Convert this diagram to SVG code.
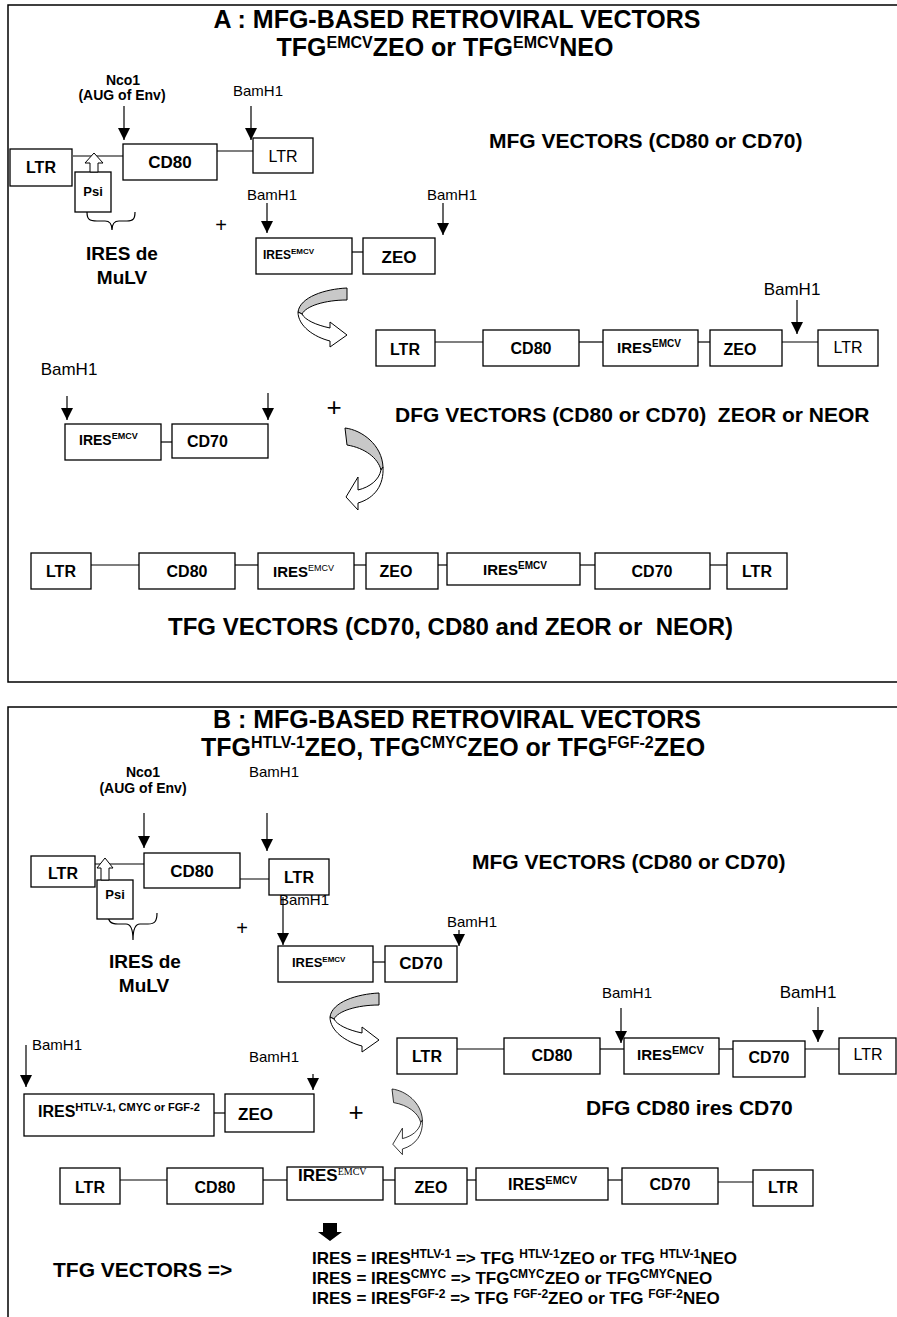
<svg xmlns="http://www.w3.org/2000/svg" width="897" height="1317" viewBox="0 0 897 1317">
<style>
.box{fill:#fff;stroke:#000;stroke-width:1.3}
.ln{stroke:#000;stroke-width:1.2;fill:none}
.ar{stroke:#000;stroke-width:1.2;fill:none;marker-end:url(#ah)}
.frame{stroke:#000;stroke-width:1.5;fill:none}
text{font-family:"Liberation Sans",Arial,sans-serif;fill:#000}
.b{font-weight:bold}
.m{text-anchor:middle}
.serif{font-family:"Liberation Serif","Times New Roman",serif;font-weight:normal}
.gray{fill:#c8c8c8;stroke:#000;stroke-width:1}
.wh{fill:#fff;stroke:#000;stroke-width:1}
</style>
<defs>
<marker id="ah" markerUnits="userSpaceOnUse" markerWidth="12" markerHeight="12" viewBox="0 0 12 12" refX="12" refY="6" orient="auto"><path d="M0,0 L12,6 L0,12 Z" fill="#000"/></marker>
<g id="curveR"><path class="gray" d="M49,0 C27,1 2,9 0,24 L4,26 C8,18 27,12 49,12 Z"/><path class="wh" d="M0,24 C0,38 16,49 32,53 L32,59 L49,47 L32,34 L32,40 C18,37 7,32 4,26 Z"/></g>
<g id="curveL"><path class="gray" d="M0,0 C17,2 37,17 38,39 L36,42 C33,30 20,20 2,17 Z"/><path class="wh" d="M38,39 C39,57 30,70 13,75 L13,82 L1,69 L13,49 L13,62 C25,59 34,52 36,42 Z"/></g>
</defs>
<rect width="897" height="1317" fill="#fff"/>
<g id="frames">
<path class="frame" d="M897,5 H8 V682 H897"/>
<path class="frame" d="M897,707 H8 V1317"/>
</g>
<g id="titleA">
<text class="b m" x="457" y="28" font-size="25">A : MFG-BASED RETROVIRAL VECTORS</text>
<text class="b m" x="445" y="56" font-size="25"><tspan>TFG</tspan><tspan dy="-8" font-size="16">EMCV</tspan><tspan dy="8">ZEO or TFG</tspan><tspan dy="-8" font-size="16">EMCV</tspan><tspan dy="8">NEO</tspan></text>
</g>
<g id="connectors">
<line class="ln" x1="73" y1="156" x2="123" y2="156"/>
<line class="ln" x1="217" y1="151" x2="253" y2="151"/>
<line class="ln" x1="352" y1="252" x2="363" y2="252"/>
<line class="ln" x1="435" y1="342" x2="483" y2="342"/>
<line class="ln" x1="579" y1="342" x2="603" y2="342"/>
<line class="ln" x1="698" y1="342" x2="710" y2="342"/>
<line class="ln" x1="782" y1="342" x2="818" y2="342"/>
<line class="ln" x1="161" y1="442" x2="172" y2="442"/>
<line class="ln" x1="91" y1="565" x2="139" y2="565"/>
<line class="ln" x1="235" y1="565" x2="258" y2="565"/>
<line class="ln" x1="354" y1="565" x2="366" y2="565"/>
<line class="ln" x1="438" y1="565" x2="447" y2="565"/>
<line class="ln" x1="580" y1="565" x2="595" y2="565"/>
<line class="ln" x1="710" y1="565" x2="727" y2="565"/>
<line class="ar" x1="124" y1="106" x2="124" y2="140"/>
<line class="ar" x1="251" y1="106" x2="251" y2="140"/>
<line class="ar" x1="267" y1="203" x2="267" y2="233"/>
<line class="ar" x1="443" y1="203" x2="443" y2="235"/>
<line class="ar" x1="797" y1="300" x2="797" y2="334"/>
<line class="ar" x1="67" y1="396" x2="67" y2="420"/>
<line class="ar" x1="268" y1="393" x2="268" y2="420"/>
<line class="ln" x1="95" y1="864" x2="144" y2="864"/>
<line class="ln" x1="233" y1="879" x2="269" y2="879"/>
<line class="ln" x1="373" y1="962" x2="385" y2="962"/>
<line class="ln" x1="457" y1="1049" x2="504" y2="1049"/>
<line class="ln" x1="600" y1="1049" x2="624" y2="1049"/>
<line class="ln" x1="719" y1="1049" x2="733" y2="1049"/>
<line class="ln" x1="805" y1="1049" x2="839" y2="1049"/>
<line class="ln" x1="214" y1="1113" x2="225" y2="1113"/>
<line class="ln" x1="120" y1="1180" x2="167" y2="1180"/>
<line class="ln" x1="263" y1="1180" x2="287" y2="1180"/>
<line class="ln" x1="383" y1="1180" x2="395" y2="1180"/>
<line class="ln" x1="467" y1="1180" x2="476" y2="1180"/>
<line class="ln" x1="608" y1="1180" x2="622" y2="1180"/>
<line class="ln" x1="718" y1="1182" x2="753" y2="1182"/>
<line class="ar" x1="144" y1="813" x2="144" y2="848"/>
<line class="ar" x1="267" y1="813" x2="267" y2="851"/>
<line class="ar" x1="283" y1="897" x2="283" y2="945"/>
<line class="ar" x1="459" y1="930" x2="459" y2="946"/>
<line class="ar" x1="621" y1="1008" x2="621" y2="1043"/>
<line class="ar" x1="818" y1="1007" x2="818" y2="1042"/>
<line class="ar" x1="26" y1="1045" x2="26" y2="1087"/>
<line class="ar" x1="313" y1="1074" x2="313" y2="1090"/>
<use href="#curveR" transform="translate(298,288)"/>
<use href="#curveL" transform="translate(345,428)"/>
<use href="#curveR" transform="translate(330,993)"/>
<use href="#curveL" transform="translate(392,1089) scale(0.8)"/>
<polygon points="323,1223 337,1223 337,1232 342,1232 330,1241 318,1232 323,1232" fill="#000"/>
</g>
<g id="labelsA">
<text class="b m" x="123" y="85" font-size="14">Nco1</text>
<text class="b m" x="122" y="100" font-size="14">(AUG of Env)</text>
<text class="m" x="258" y="96" font-size="15">BamH1</text>
<text class="b" x="489" y="148" font-size="21">MFG VECTORS (CD80 or CD70)</text>
<text class="m" x="272" y="200" font-size="15">BamH1</text>
<text class="m" x="452" y="200" font-size="15">BamH1</text>
<text class="m" x="221" y="232" font-size="20">+</text>
<path class="ln" d="M87,212 C87,219 89,221 97,221 L105,221 C110,221 112,224 112,230 C112,224 114,221 119,221 L127,221 C133,221 135,219 135,212"/>
<text class="b m" x="122" y="260" font-size="19">IRES de</text>
<text class="b m" x="122" y="284" font-size="19">MuLV</text>
<text class="m" x="792" y="295" font-size="17">BamH1</text>
<text class="m" x="69" y="375" font-size="17">BamH1</text>
<text class="m" x="334" y="416" font-size="26">+</text>
<text class="b" x="395" y="422" font-size="21">DFG VECTORS (CD80 or CD70)&#160; ZEOR or NEOR</text>
<text class="b" x="168" y="635" font-size="24">TFG VECTORS (CD70, CD80 and ZEOR or&#160; NEOR)</text>
</g>
<g id="A-LTR1"><rect class="box" x="10" y="149" width="62" height="37"/><text class="b m" x="41" y="173" font-size="16">LTR</text></g>
<g id="A-Psi"><rect class="box" x="75" y="172" width="36" height="40"/><polygon class="wh" points="94,153 103,163 98,163 98,172 90,172 90,163 85,163"/><text class="b m" x="93" y="196" font-size="13">Psi</text></g>
<g id="A-CD80"><rect class="box" x="123" y="144" width="94" height="36"/><text class="b m" x="170" y="168" font-size="17">CD80</text></g>
<g id="A-LTR2"><rect class="box" x="253" y="138" width="60" height="35"/><text class="m" x="283" y="162" font-size="16">LTR</text></g>
<g id="A-IRES"><rect class="box" x="256" y="238" width="96" height="36"/><text class="b" x="263" y="259" font-size="12">IRES<tspan dy="-5" font-size="8">EMCV</tspan></text></g>
<g id="A-ZEO"><rect class="box" x="363" y="238" width="72" height="36"/><text class="b m" x="399" y="263" font-size="17">ZEO</text></g>
<g id="A-DFG-LTR1"><rect class="box" x="376" y="330" width="59" height="36"/><text class="b m" x="405" y="355" font-size="16">LTR</text></g>
<g id="A-DFG-CD80"><rect class="box" x="483" y="330" width="96" height="36"/><text class="b m" x="531" y="354" font-size="16">CD80</text></g>
<g id="A-DFG-IRES"><rect class="box" x="603" y="330" width="95" height="36"/><text class="b" x="617" y="353" font-size="15">IRES<tspan dy="-6" font-size="10">EMCV</tspan></text></g>
<g id="A-DFG-ZEO"><rect class="box" x="710" y="330" width="72" height="36"/><text class="b m" x="740" y="355" font-size="16">ZEO</text></g>
<g id="A-DFG-LTR2"><rect class="box" x="818" y="330" width="60" height="36"/><text class="m" x="848" y="353" font-size="16">LTR</text></g>
<g id="A-IRES-CD70-IRES"><rect class="box" x="65" y="424" width="96" height="36"/><text class="b" x="79" y="445" font-size="14">IRES<tspan dy="-6" font-size="9">EMCV</tspan></text></g>
<g id="A-IRES-CD70-CD70"><rect class="box" x="172" y="424" width="96" height="34"/><text class="b" x="187" y="447" font-size="16">CD70</text></g>
<g id="A-TFG-LTR1"><rect class="box" x="31" y="553" width="60" height="36"/><text class="b m" x="61" y="577" font-size="16">LTR</text></g>
<g id="A-TFG-CD80"><rect class="box" x="139" y="553" width="96" height="36"/><text class="b m" x="187" y="577" font-size="16">CD80</text></g>
<g id="A-TFG-IRES1"><rect class="box" x="258" y="553" width="96" height="36"/><text class="b" x="273" y="577" font-size="15">IRES<tspan dy="-6" font-size="9" font-weight="normal">EMCV</tspan></text></g>
<g id="A-TFG-ZEO"><rect class="box" x="366" y="553" width="72" height="36"/><text class="b m" x="396" y="577" font-size="16">ZEO</text></g>
<g id="A-TFG-IRES2"><rect class="box" x="447" y="553" width="133" height="32"/><text class="b" x="483" y="575" font-size="15">IRES<tspan dy="-6" font-size="10">EMCV</tspan></text></g>
<g id="A-TFG-CD70"><rect class="box" x="595" y="553" width="115" height="36"/><text class="b m" x="652" y="577" font-size="16">CD70</text></g>
<g id="A-TFG-LTR2"><rect class="box" x="727" y="553" width="60" height="36"/><text class="b m" x="757" y="577" font-size="16">LTR</text></g>
<g id="titleB">
<text class="b m" x="457" y="728" font-size="25">B : MFG-BASED RETROVIRAL VECTORS</text>
<text class="b m" x="453" y="756" font-size="25"><tspan>TFG</tspan><tspan dy="-8" font-size="16">HTLV-1</tspan><tspan dy="8">ZEO, TFG</tspan><tspan dy="-8" font-size="16">CMYC</tspan><tspan dy="8">ZEO or TFG</tspan><tspan dy="-8" font-size="16">FGF-2</tspan><tspan dy="8">ZEO</tspan></text>
</g>
<g id="labelsB">
<text class="b m" x="143" y="777" font-size="14">Nco1</text>
<text class="b m" x="143" y="793" font-size="14">(AUG of Env)</text>
<text class="m" x="274" y="777" font-size="15">BamH1</text>
<text class="b" x="472" y="869" font-size="21">MFG VECTORS (CD80 or CD70)</text>
<text class="m" x="304" y="905" font-size="15">BamH1</text>
<text class="m" x="472" y="927" font-size="15">BamH1</text>
<text class="m" x="242" y="935" font-size="20">+</text>
<path class="ln" d="M108,913 C108,921 110,924 118,924 L126,924 C131,924 133,930 133,940 C133,930 135,924 140,924 L148,924 C155,924 157,921 157,913"/>
<text class="b m" x="145" y="968" font-size="19">IRES de</text>
<text class="b m" x="144" y="992" font-size="19">MuLV</text>
<text class="m" x="627" y="998" font-size="15">BamH1</text>
<text class="m" x="808" y="998" font-size="17">BamH1</text>
<text class="b" x="586" y="1115" font-size="21">DFG CD80 ires CD70</text>
<text x="32" y="1050" font-size="15">BamH1</text>
<text class="m" x="274" y="1062" font-size="15">BamH1</text>
<text class="m" x="356" y="1121" font-size="26">+</text>
<text class="b" x="53" y="1277" font-size="21">TFG VECTORS =&gt;</text>
<text class="b" x="312" y="1264" font-size="17">IRES = IRES<tspan dy="-6" font-size="12">HTLV-1</tspan><tspan dy="6"> =&gt; TFG </tspan><tspan dy="-6" font-size="12">HTLV-1</tspan><tspan dy="6">ZEO or TFG </tspan><tspan dy="-6" font-size="12">HTLV-1</tspan><tspan dy="6">NEO</tspan></text>
<text class="b" x="312" y="1284" font-size="17">IRES = IRES<tspan dy="-6" font-size="12">CMYC</tspan><tspan dy="6"> =&gt; TFG</tspan><tspan dy="-6" font-size="12">CMYC</tspan><tspan dy="6">ZEO or TFG</tspan><tspan dy="-6" font-size="12">CMYC</tspan><tspan dy="6">NEO</tspan></text>
<text class="b" x="312" y="1304" font-size="17">IRES = IRES<tspan dy="-6" font-size="12">FGF-2</tspan><tspan dy="6"> =&gt; TFG </tspan><tspan dy="-6" font-size="12">FGF-2</tspan><tspan dy="6">ZEO or TFG </tspan><tspan dy="-6" font-size="12">FGF-2</tspan><tspan dy="6">NEO</tspan></text>
</g>
<g id="B-LTR1"><rect class="box" x="31" y="856" width="64" height="31"/><text class="b m" x="63" y="879" font-size="16">LTR</text></g>
<g id="B-Psi"><rect class="box" x="97" y="880" width="36" height="39"/><polygon class="wh" points="105,858 113,868 109,868 109,880 101,880 101,868 97,868"/><text class="b m" x="115" y="899" font-size="13">Psi</text></g>
<g id="B-CD80"><rect class="box" x="144" y="853" width="96" height="35"/><text class="b m" x="192" y="877" font-size="17">CD80</text></g>
<g id="B-LTR2"><rect class="box" x="269" y="859" width="60" height="36"/><text class="b m" x="299" y="883" font-size="16">LTR</text></g>
<g id="B-IRES"><rect class="box" x="278" y="946" width="95" height="36"/><text class="b" x="292" y="967" font-size="13">IRES<tspan dy="-5" font-size="8">EMCV</tspan></text></g>
<g id="B-CD70"><rect class="box" x="385" y="946" width="72" height="36"/><text class="b m" x="421" y="969" font-size="17">CD70</text></g>
<g id="B-DFG-LTR1"><rect class="box" x="397" y="1038" width="60" height="36"/><text class="b m" x="427" y="1062" font-size="16">LTR</text></g>
<g id="B-DFG-CD80"><rect class="box" x="504" y="1038" width="96" height="36"/><text class="b m" x="552" y="1061" font-size="16">CD80</text></g>
<g id="B-DFG-IRES"><rect class="box" x="624" y="1038" width="95" height="36"/><text class="b" x="637" y="1060" font-size="15">IRES<tspan dy="-6" font-size="11">EMCV</tspan></text></g>
<g id="B-DFG-CD70"><rect class="box" x="733" y="1041" width="72" height="36"/><text class="b m" x="769" y="1063" font-size="16">CD70</text></g>
<g id="B-DFG-LTR2"><rect class="box" x="839" y="1038" width="57" height="36"/><text class="m" x="868" y="1060" font-size="16">LTR</text></g>
<g id="B-IRESX"><rect class="box" x="24" y="1094" width="190" height="42"/><text class="b" x="38" y="1117" font-size="16">IRES<tspan dy="-6" font-size="11">HTLV-1, CMYC or FGF-2</tspan></text></g>
<g id="B-ZEO"><rect class="box" x="225" y="1094" width="89" height="38"/><text class="b" x="238" y="1120" font-size="17">ZEO</text></g>
<g id="B-TFG-LTR1"><rect class="box" x="60" y="1168" width="60" height="36"/><text class="b m" x="90" y="1193" font-size="16">LTR</text></g>
<g id="B-TFG-CD80"><rect class="box" x="167" y="1168" width="96" height="36"/><text class="b m" x="215" y="1193" font-size="16">CD80</text></g>
<g id="B-TFG-IRES1"><rect class="box" x="287" y="1167" width="96" height="33"/><text class="b" x="298" y="1181" font-size="17">IRES<tspan dy="-6" font-size="10" class="serif">EMCV</tspan></text></g>
<g id="B-TFG-ZEO"><rect class="box" x="395" y="1168" width="72" height="36"/><text class="b m" x="431" y="1193" font-size="16">ZEO</text></g>
<g id="B-TFG-IRES2"><rect class="box" x="476" y="1168" width="132" height="32"/><text class="b" x="508" y="1190" font-size="16">IRES<tspan dy="-6" font-size="11">EMCV</tspan></text></g>
<g id="B-TFG-CD70"><rect class="box" x="622" y="1168" width="96" height="36"/><text class="b m" x="670" y="1190" font-size="16">CD70</text></g>
<g id="B-TFG-LTR2"><rect class="box" x="753" y="1170" width="60" height="36"/><text class="b m" x="783" y="1193" font-size="16">LTR</text></g>
</svg>
